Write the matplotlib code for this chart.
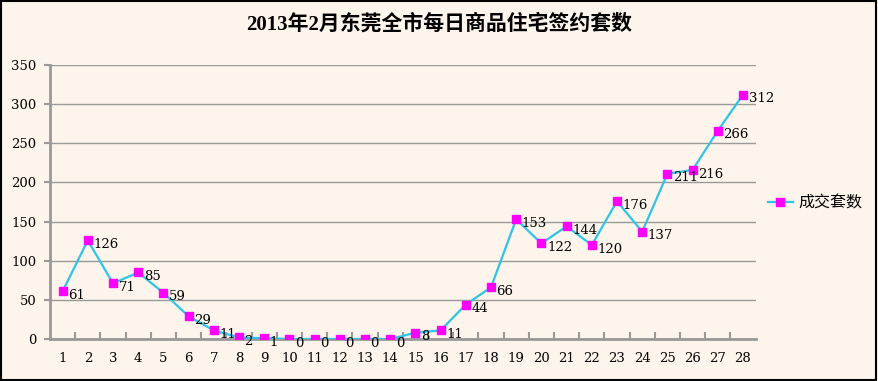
import numpy as np
import matplotlib.pyplot as plt
from matplotlib.patches import Rectangle
from matplotlib.lines import Line2D

plt.rcParams['font.family'] = ['DejaVu Serif', 'Noto Sans CJK SC', 'DejaVu Sans']

days = list(range(1, 29))
deals = [61, 126, 71, 85, 59, 29, 11, 2, 1, 0, 0, 0, 0, 0,
         8, 11, 44, 66, 153, 122, 144, 120, 176, 137, 211, 216, 266, 312]
title = '2013年2月东莞全市每日商品住宅签约套数'
series_name = '成交套数'

bg = '#fdf4ec'
fig = plt.figure(figsize=(8.79, 3.81), dpi=100, facecolor=bg)
ax = fig.add_axes([0.0569, 0.1102, 0.8027, 0.7192], facecolor=bg)

ax.plot(days, deals, color='#2ec4e6', lw=1.6, marker='s', markersize=5.5,
        markerfacecolor='#ff00ff', markeredgecolor='#ff00ff', zorder=3)
for d, v in zip(days, deals):
    ax.annotate(str(v), (d, v), xytext=(4, -3), textcoords='offset points',
                fontsize=9.5, ha='left', va='center', color='black')

ax.set_xlim(0.5, 28.5)
ax.set_ylim(0, 350)
ax.set_yticks(range(0, 351, 50))
ax.yaxis.grid(True, color='#999999', lw=1)
ax.set_axisbelow(True)
ax.set_xticks(days)
ax.set_xticks(np.arange(1.5, 28.5, 1), minor=True)
ax.tick_params(axis='x', which='major', length=0, pad=9, labelsize=9.5)
ax.tick_params(axis='x', which='minor', direction='in', length=5, color='#999999', width=1.5)
ax.tick_params(axis='y', length=4, color='#999999', width=1.5, labelsize=9.5, pad=6)
for s in ['top', 'right']:
    ax.spines[s].set_visible(False)
for s in ['left', 'bottom']:
    ax.spines[s].set_color('#999999')
    ax.spines[s].set_linewidth(2)

fig.text(0.5, 0.935, title, ha='center', va='center', fontsize=15, fontweight='bold',
         family=['Liberation Serif', 'Noto Sans CJK SC'])

h = Line2D([], [], color='#2ec4e6', lw=1.6, marker='s', markersize=5.5,
           markerfacecolor='#ff00ff', markeredgecolor='#ff00ff')
fig.legend([h], [series_name], loc='center left', bbox_to_anchor=(0.857, 0.468),
           frameon=False, fontsize=11.5, handlelength=1.6, handletextpad=0.3)

fig.patches.append(Rectangle((0.001, 0.003), 0.996, 0.994, transform=fig.transFigure,
                             fill=False, edgecolor='black', lw=1.5))

fig.savefig('out.png', dpi=100, facecolor=bg)
